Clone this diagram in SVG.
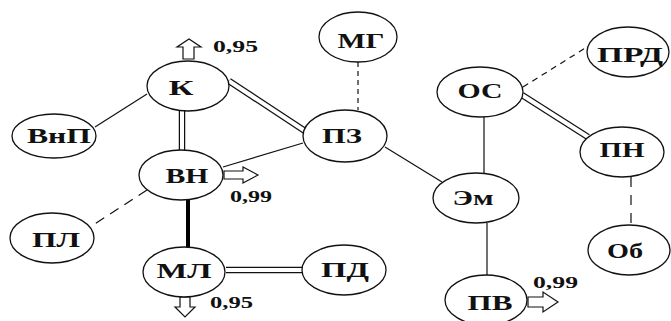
<svg xmlns="http://www.w3.org/2000/svg" width="671" height="321" viewBox="0 0 671 321">
<style>
.n ellipse{fill:#fff;stroke:#111;stroke-width:1.3}
.n text{font-family:"Liberation Serif","Times New Roman",serif;font-weight:bold;font-size:21px;fill:#111;text-anchor:middle}
.v{font-family:"Liberation Serif","Times New Roman",serif;font-weight:bold;font-size:16px;fill:#111}
.s{stroke:#111;stroke-width:1.2;fill:none}
.dO{stroke:#111;stroke-width:6.5;fill:none}
.dI{stroke:#fff;stroke-width:4;fill:none}
.thick{stroke:#000;stroke-width:4;fill:none}
.a{fill:#fff;stroke:#111;stroke-width:1.2}
</style>
<rect width="671" height="321" fill="#fff"/>
<g id="connectors">
<line class="s" x1="147" y1="94" x2="95" y2="127"/>
<line class="dO" x1="182" y1="111" x2="182" y2="150"/>
<line class="dI" x1="182" y1="111" x2="182" y2="150"/>
<line class="dO" x1="229" y1="81" x2="305" y2="131"/>
<line class="dI" x1="229" y1="81" x2="305" y2="131"/>
<line class="s" x1="223" y1="167" x2="303" y2="143"/>
<line class="s" x1="147" y1="190" x2="90" y2="227" stroke-dasharray="10,7"/>
<line class="thick" x1="188" y1="200" x2="188" y2="247"/>
<line class="dO" x1="226" y1="270" x2="303" y2="270"/>
<line class="dI" x1="226" y1="270" x2="303" y2="270"/>
<line class="s" x1="358" y1="62" x2="358" y2="110" stroke-dasharray="5,4"/>
<line class="s" x1="385" y1="147" x2="442" y2="182"/>
<line class="s" x1="484" y1="117" x2="484" y2="173"/>
<line class="s" x1="523" y1="87" x2="587" y2="47" stroke-dasharray="6,5"/>
<line class="dO" x1="522" y1="95" x2="588" y2="137"/>
<line class="dI" x1="522" y1="95" x2="588" y2="137"/>
<line class="s" x1="631" y1="177" x2="631" y2="225" stroke-dasharray="10,8"/>
<line class="s" x1="487" y1="223" x2="487" y2="275"/>
</g>
<g id="arrows">
<polygon class="a" points="183,59 194,59 194,47 201,47 189,39 177,47 183,47"/>
<polygon class="a" points="224,171 243,171 243,167 258,175 243,183 243,179 224,179"/>
<polygon class="a" points="180,297 190,297 190,307 195,307 185,317 175,307 180,307"/>
<polygon class="a" points="528,297 543,297 543,292 558,302 543,312 543,307 528,307"/>
<text class="v" x="213" y="52" textLength="45" lengthAdjust="spacingAndGlyphs">0,95</text>
<text class="v" x="230" y="202" textLength="42" lengthAdjust="spacingAndGlyphs">0,99</text>
<text class="v" x="210" y="308" textLength="43" lengthAdjust="spacingAndGlyphs">0,95</text>
<text class="v" x="533" y="288" textLength="45" lengthAdjust="spacingAndGlyphs">0,99</text>
</g>
<g id="K" class="n"><ellipse cx="188" cy="86" rx="41" ry="25"/><text x="181" y="95" textLength="25" lengthAdjust="spacingAndGlyphs">К</text></g>
<g id="VnP" class="n"><ellipse cx="54" cy="136" rx="42" ry="22"/><text x="59" y="143" textLength="64" lengthAdjust="spacingAndGlyphs">ВнП</text></g>
<g id="VN" class="n"><ellipse cx="181" cy="175" rx="42" ry="25"/><text x="187" y="183" textLength="43" lengthAdjust="spacingAndGlyphs">ВН</text></g>
<g id="PL" class="n"><ellipse cx="52" cy="238" rx="42" ry="25"/><text x="56" y="247" textLength="48" lengthAdjust="spacingAndGlyphs">ПЛ</text></g>
<g id="ML" class="n"><ellipse cx="184" cy="272" rx="41" ry="25"/><text x="184" y="278" textLength="55" lengthAdjust="spacingAndGlyphs">МЛ</text></g>
<g id="PD" class="n"><ellipse cx="344" cy="270" rx="42" ry="25"/><text x="345" y="277" textLength="48" lengthAdjust="spacingAndGlyphs">ПД</text></g>
<g id="MG" class="n"><ellipse cx="358" cy="37" rx="39" ry="25"/><text x="361" y="48" textLength="47" lengthAdjust="spacingAndGlyphs">МГ</text></g>
<g id="PZ" class="n"><ellipse cx="345" cy="136" rx="42" ry="26"/><text x="342" y="143" textLength="40" lengthAdjust="spacingAndGlyphs">ПЗ</text></g>
<g id="OS" class="n"><ellipse cx="480" cy="92" rx="43" ry="25"/><text x="480" y="98" textLength="45" lengthAdjust="spacingAndGlyphs">ОС</text></g>
<g id="PRD" class="n"><ellipse cx="628" cy="52" rx="41" ry="25"/><text x="630" y="62" textLength="66" lengthAdjust="spacingAndGlyphs">ПРД</text></g>
<g id="PN" class="n"><ellipse cx="622" cy="152" rx="42" ry="25"/><text x="622" y="157" textLength="45" lengthAdjust="spacingAndGlyphs">ПН</text></g>
<g id="Em" class="n"><ellipse cx="476" cy="198" rx="43" ry="25"/><text x="473" y="205" textLength="41" lengthAdjust="spacingAndGlyphs">Эм</text></g>
<g id="Ob" class="n"><ellipse cx="629" cy="250" rx="41" ry="25"/><text x="625" y="258" textLength="36" lengthAdjust="spacingAndGlyphs">Об</text></g>
<g id="PV" class="n"><ellipse cx="486" cy="300" rx="41" ry="25"/><text x="490" y="310" textLength="45" lengthAdjust="spacingAndGlyphs">ПВ</text></g>
</svg>
